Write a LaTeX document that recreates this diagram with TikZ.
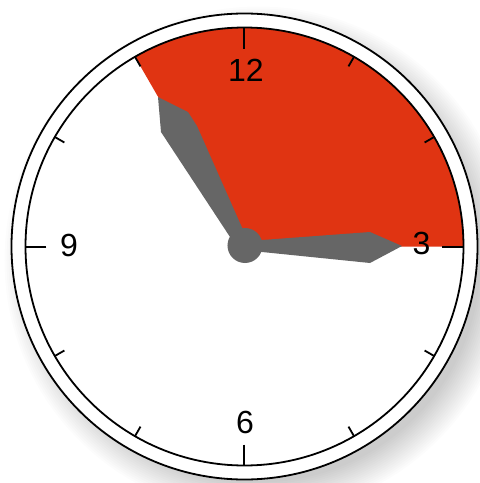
\documentclass[tikz,border=0pt]{standalone}
\usepackage{fontspec}
\setmainfont{Liberation Sans}
\definecolor{clockred}{RGB}{224,52,18}
\definecolor{handgrey}{RGB}{102,102,102}
\begin{document}
\begin{tikzpicture}[x=1pt,y=1pt,
  rim/.style={draw=black,line width=1.8pt},
  majortick/.style={line width=2pt},
  minortick/.style={line width=1.8pt},
  numeral/.style={font=\fontsize{32}{32}\selectfont,inner sep=0pt},
  hand/.style={fill=handgrey,draw=none}]
\useasboundingbox (-244.5,-236.5) rectangle (235.5,246.5);
\fill[white] (-244.5,-236.5) rectangle (235.5,246.5);
% soft drop shadow
\foreach \r in {222,224,...,254} {\fill[black,opacity=0.011] (14,-14) circle (\r);}
\coordinate (O) at (0,0);
\fill[white] (O) circle (233);
% red sector
\fill[clockred] (O) -- (0:219) arc[start angle=0,end angle=120,radius=219] -- cycle;
% hands
\fill[hand] (-12.5,6.5) -- (-83.5,114.5) -- (-86.5,149.5) -- (-56.5,134.5) -- (-47.5,120.5) -- (-0.5,14.5) -- cycle;
\fill[hand] (0,8) -- (17.5,6.5) -- (125.5,14.5) -- (157.5,0.5) -- (125.5,-16.5) -- (17.5,-5.5) -- (0,-5) -- cycle;
\fill[hand] (0.5,1) circle (17.5);
% rims
\draw[rim] (O) circle (233);
\draw[rim] (O) circle (219);
% ticks
\foreach \a in {0,90,180,270} \draw[majortick] (\a:198) -- (\a:219);
\foreach \a in {30,60,120,150,210,240,300,330} \draw[minortick] (\a:208) -- (\a:219);
% numerals
\node[numeral] (n12) at (1.5,176.5) {12};
\node[numeral] (n9) at (-175.5,1.5) {9};
\node[numeral] (n3) at (177,3) {3};
\node[numeral] (n6) at (0.5,-175.5) {6};
\end{tikzpicture}
\end{document}
